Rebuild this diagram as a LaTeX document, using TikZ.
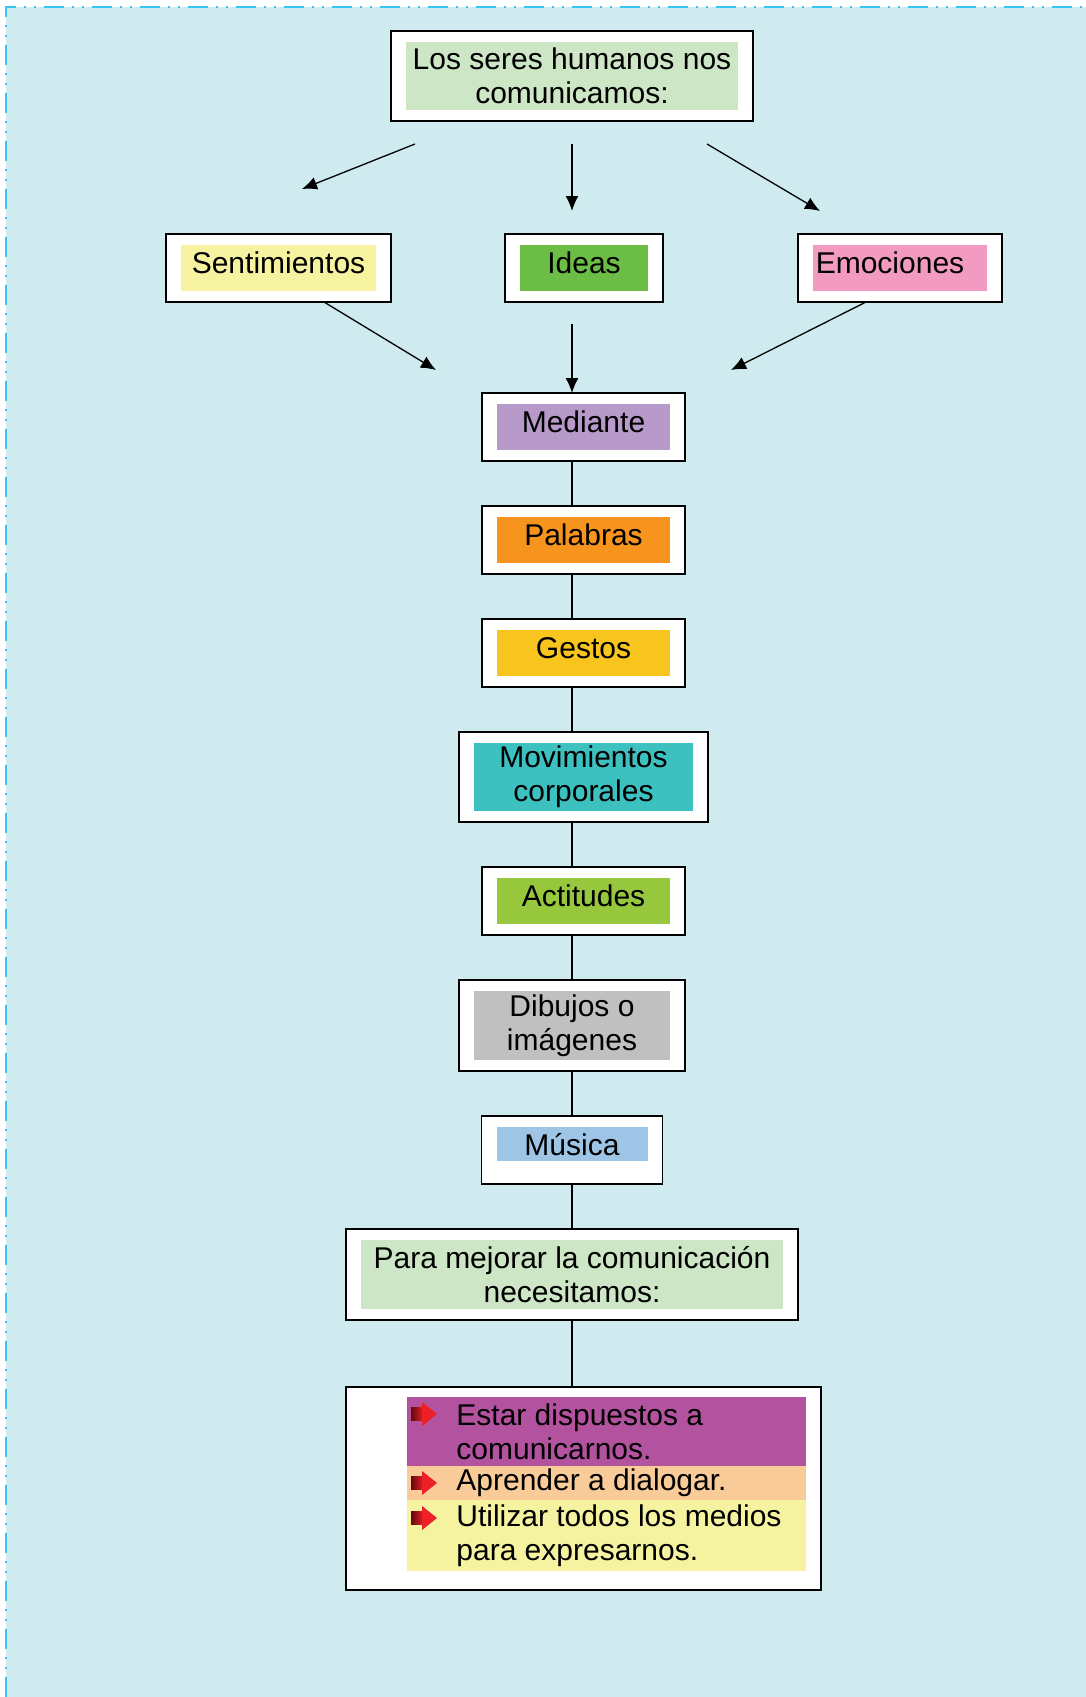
\documentclass[tikz,border=0pt]{standalone}
\usepackage{fontspec}
\setmainfont{Liberation Sans}
\usepackage{tikz}
\usetikzlibrary{positioning, arrows.meta}

\definecolor{fondo}{RGB}{207,235,239}
\definecolor{borde}{RGB}{55,198,242}
\definecolor{verdeclaro}{RGB}{205,230,197}
\definecolor{amarillo}{RGB}{245,242,160}
\definecolor{verde}{RGB}{107,189,69}
\definecolor{rosa}{RGB}{243,154,192}
\definecolor{lila}{RGB}{184,154,202}
\definecolor{naranja}{RGB}{247,148,30}
\definecolor{dorado}{RGB}{247,197,30}
\definecolor{turquesa}{RGB}{60,192,192}
\definecolor{pistacho}{RGB}{150,199,60}
\definecolor{gris}{RGB}{192,192,192}
\definecolor{celeste}{RGB}{158,196,230}
\definecolor{morado}{RGB}{179,82,158}
\definecolor{melocoton}{RGB}{249,203,152}
\definecolor{rojooscuro}{RGB}{100,8,12}
\definecolor{rojo}{RGB}{236,32,38}

\newcommand{\texto}{\fontsize{15}{17}\selectfont}
\tikzset{padbot/.initial=5.5pt}

\begin{document}
\begin{tikzpicture}[x=0.5pt, y=-0.5pt,
    node distance=22.5pt,
    caja/.style={draw=black, line width=0.9pt, fill=white, inner sep=0pt, outer sep=0pt,
      minimum height=34pt, align=center, font=\texto,
      path picture={\fill[#1] ([shift={(7.5pt,\pgfkeysvalueof{/tikz/padbot})}]path picture bounding box.south west)
        rectangle ([shift={(-7.5pt,-5.5pt)}]path picture bounding box.north east);}},
    corta/.style={text depth=5pt},
    flecha/.style={-{Latex[length=7.5pt, width=6.5pt]}, line width=0.65pt},
    linea/.style={line width=0.65pt},
    banda/.style={inner sep=0pt, outer sep=0pt, minimum width=199.5pt},
    renglon/.style={inner sep=0pt, align=left, anchor=west, font=\texto},
    vineta/.pic={
      \shade[left color=rojooscuro, right color=rojo] (0pt,-3.25pt) rectangle (6.5pt,3.25pt);
      \fill[rojo] (5.5pt,6pt) -- (13pt,0pt) -- (5.5pt,-6pt) -- cycle;}
  ]
    \useasboundingbox (0,0) rectangle (1086,1697);
    \fill[fondo] (6,7) rectangle (1086,1697);
    \draw[borde, line width=1.4pt, dash pattern=on 10pt off 4pt on 1pt off 4pt on 1pt off 4pt]
      (6,1697) -- (6,7) -- (1086,7);

    \node[caja=verdeclaro, minimum width=181pt, minimum height=45pt] (humanos) at (572,76)
      {Los seres humanos nos\\comunicamos:};
    \node[caja=amarillo, corta, minimum width=112.5pt] (sentimientos) at (278.5,268) {Sentimientos};
    \node[caja=verde, corta, minimum width=79pt] (ideas) at (584,268) {Ideas};
    \node[caja=rosa, corta, minimum width=102pt] (emociones) at (900,268) {Emociones\hspace*{10pt}};

    \node[caja=lila, corta, minimum width=101.5pt] (mediante) at (583.5,427) {Mediante};
    \node[caja=naranja, corta, minimum width=101.5pt, below=of mediante] (palabras) {Palabras};
    \node[caja=dorado, corta, minimum width=101.5pt, below=of palabras] (gestos) {Gestos};
    \node[caja=turquesa, minimum width=124.5pt, minimum height=45pt, below=of gestos] (movimientos)
      {Movimientos\\corporales};
    \node[caja=pistacho, corta, minimum width=101.5pt, below=of movimientos] (actitudes) {Actitudes};
    \node[caja=gris, minimum width=113pt, minimum height=45.5pt, below=of actitudes, xshift=-5.75pt] (dibujos)
      {Dibujos o\\imágenes};
    \node[caja=celeste, text depth=6pt, padbot=11.5pt, minimum width=90.5pt, below=of dibujos] (musica) {Música};
    \node[caja=verdeclaro, minimum width=226pt, minimum height=45.5pt, below=of musica] (mejorar)
      {Para mejorar la comunicación\\necesitamos:};
    \node[draw=black, line width=0.9pt, fill=white, inner sep=0pt, outer sep=0pt,
      minimum width=237.5pt, minimum height=101.5pt, below=33.5pt of mejorar, xshift=5.75pt] (lista) {};

    % franjas de la lista
    \node[banda, fill=morado, minimum height=34.5pt, below right=5pt and 30.5pt of lista.north west] (banda1) {};
    \node[banda, fill=melocoton, minimum height=17pt, below=0pt of banda1] (banda2) {};
    \node[banda, fill=amarillo, minimum height=35.5pt, below=0pt of banda2] (banda3) {};
    \node[renglon, right=24.5pt of banda1.west] (frase1) {Estar dispuestos a\\comunicarnos.};
    \node[renglon, right=24.5pt of banda2.west] (frase2) {Aprender a dialogar.};
    \node[renglon, right=24.5pt of banda3.west] (frase3) {Utilizar todos los medios\\para expresarnos.};
    \pic at ([shift={(2pt,-8.5pt)}]banda1.north west) {vineta};
    \pic at ([shift={(2pt,-8.5pt)}]banda2.north west) {vineta};
    \pic at ([shift={(2pt,-9pt)}]banda3.north west) {vineta};

    % flechas sueltas
    \coordinate (eje) at (572,0);
    \coordinate (sal1) at (415,144);
    \coordinate (lleg1) at (302,189);
    \coordinate (sal2) at (572,144);
    \coordinate (lleg2) at (572,211);
    \coordinate (sal3) at (707,144);
    \coordinate (lleg3) at (820,211);
    \coordinate (lleg4) at (436,370);
    \coordinate (sal5) at (572,324);
    \coordinate (lleg6) at (731,370);
    \draw[flecha] (sal1) -- (lleg1);
    \draw[flecha] (sal2) -- (lleg2);
    \draw[flecha] (sal3) -- (lleg3);
    \draw[flecha] ([xshift=22.75pt]sentimientos.south) -- (lleg4);
    \draw[flecha] (sal5) -- (mediante.north -| eje);
    \draw[flecha] ([xshift=-17pt]emociones.south) -- (lleg6);

    \draw[linea] (mediante.south -| eje) -- (palabras.north -| eje);
    \draw[linea] (palabras.south -| eje) -- (gestos.north -| eje);
    \draw[linea] (gestos.south -| eje) -- (movimientos.north -| eje);
    \draw[linea] (movimientos.south -| eje) -- (actitudes.north -| eje);
    \draw[linea] (actitudes.south -| eje) -- (dibujos.north -| eje);
    \draw[linea] (dibujos.south -| eje) -- (musica.north -| eje);
    \draw[linea] (musica.south -| eje) -- (mejorar.north -| eje);
    \draw[linea] (mejorar.south -| eje) -- (lista.north -| eje);
  \end{tikzpicture}
\end{document}
